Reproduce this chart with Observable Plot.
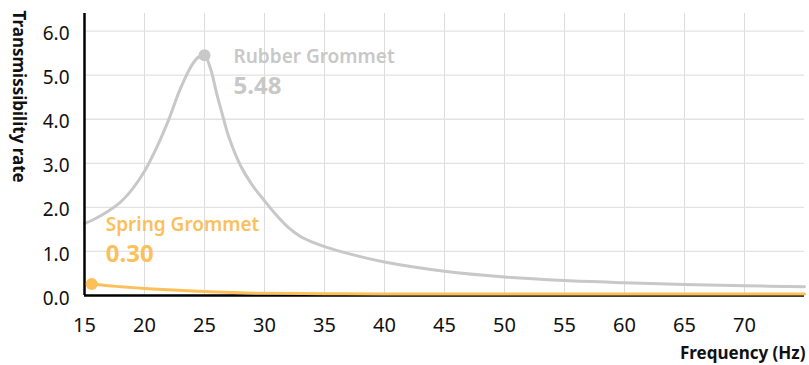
<!DOCTYPE html>
<html><head><meta charset="utf-8">
<script src="https://cdn.jsdelivr.net/npm/d3@7"></script>
<script src="https://cdn.jsdelivr.net/npm/@observablehq/plot@0.6"></script>
<style>
body{margin:0;background:#fff;}
#chart svg{display:block;}
</style></head><body><div id="chart"></div>
<script>
const rubberHz   = [15, 16, 17, 18, 19, 20, 21, 22, 23, 24, 24.5, 25, 25.5, 26, 26.6, 27, 28, 29, 30, 31, 32, 33, 34, 35, 37, 40, 45, 50, 55, 60, 65, 70, 75];
const rubberRate = [1.63, 1.76, 1.92, 2.12, 2.42, 2.82, 3.35, 3.98, 4.7, 5.25, 5.41, 5.45, 5.15, 4.6, 4.0, 3.62, 2.95, 2.5, 2.15, 1.82, 1.54, 1.34, 1.21, 1.11, 0.95, 0.76, 0.55, 0.42, 0.34, 0.29, 0.25, 0.22, 0.2];
const springHz   = [15.6, 17, 18, 20, 22, 25, 28, 30, 35, 40, 50, 60, 75];
const springRate = [0.26, 0.22, 0.2, 0.16, 0.13, 0.09, 0.06, 0.05, 0.04, 0.035, 0.035, 0.035, 0.035];
const seriesNames  = ["Rubber Grommet", "Spring Grommet"];
const seriesLabels = ["5.48", "0.30"];
const seriesColors = ["#c8c8c8", "#fcc05a"];
const markerHz     = [25, 15.6];
const xTicks = [15, 20, 25, 30, 35, 40, 45, 50, 55, 60, 65, 70];
const yTicks = [0, 1, 2, 3, 4, 5, 6];
const xTitle = "Frequency (Hz)";
const yTitle = "Transmissibility rate";

const rubber = rubberHz.map((x, i) => ({x, y: rubberRate[i]}));
const spring = springHz.map((x, i) => ({x, y: springRate[i]}));
const series = [rubber, spring];
const markers = seriesNames.map((name, i) => {
  const p = series[i].find(d => d.x === markerHz[i]);
  return {name, label: seriesLabels[i], x: p.x, y: p.y, color: seriesColors[i]};
});
const font = "'Noto Sans', sans-serif";

const chart = Plot.plot({
  width: 809, height: 365,
  marginLeft: 84, marginRight: 5, marginTop: 13, marginBottom: 70,
  style: {fontFamily: font, background: "#fff", overflow: "visible"},
  x: {domain: [15, 75]},
  y: {domain: [0, 6.4]},
  marks: [
    Plot.gridX(xTicks.slice(1), {stroke: "#dcdcdc", strokeOpacity: 1, strokeWidth: 1}),
    Plot.gridY(yTicks.slice(1), {stroke: "#e2e2e2", strokeOpacity: 1, strokeWidth: 1.3}),
    Plot.axisX(xTicks, {tickSize: 0, tickPadding: 22, fontSize: 20, fill: "#111", label: null}),
    Plot.axisY(yTicks, {tickSize: 0, tickPadding: 15, fontSize: 19, fill: "#111", dy: 3, tickFormat: d => d.toFixed(1), label: null}),
    Plot.line(rubber, {x: "x", y: "y", stroke: seriesColors[0], strokeWidth: 3, curve: "catmull-rom"}),
    Plot.ruleX([15], {stroke: "#000", strokeWidth: 2.5}),
    Plot.ruleY([0], {stroke: "#000", strokeWidth: 2.5}),
    Plot.line(spring, {x: "x", y: "y", stroke: seriesColors[1], strokeWidth: 3, curve: "catmull-rom"}),
    Plot.dot(markers, {x: "x", y: "y", r: 6, fill: d => d.color, stroke: null}),
    Plot.text(markers.slice(0, 1), {x: "x", y: "y", text: "name", fill: d => d.color, textAnchor: "start", lineAnchor: "bottom", dx: 29, dy: 8, fontSize: 19, fontWeight: 600}),
    Plot.text(markers.slice(0, 1), {x: "x", y: "y", text: "label", fill: d => d.color, textAnchor: "start", lineAnchor: "bottom", dx: 29, dy: 39, fontSize: 24, fontWeight: 700}),
    Plot.text(markers.slice(1), {x: "x", y: "y", text: "name", fill: d => d.color, textAnchor: "start", lineAnchor: "bottom", dx: 14, dy: -53, fontSize: 19, fontWeight: 600}),
    Plot.text(markers.slice(1), {x: "x", y: "y", text: "label", fill: d => d.color, textAnchor: "start", lineAnchor: "bottom", dx: 14, dy: -22, fontSize: 24, fontWeight: 700}),
    Plot.text([xTitle], {frameAnchor: "bottom-right", textAnchor: "end", lineAnchor: "bottom", dx: 1, dy: 63, fontSize: 17, fontWeight: 700, fill: "#111"}),
    Plot.text([yTitle], {frameAnchor: "top-left", rotate: 90, textAnchor: "start", lineAnchor: "middle", dx: -66, dy: -3, fontSize: 17, fontWeight: 700, fill: "#111"})
  ]
});
document.getElementById("chart").append(chart);
</script>
</body></html>
